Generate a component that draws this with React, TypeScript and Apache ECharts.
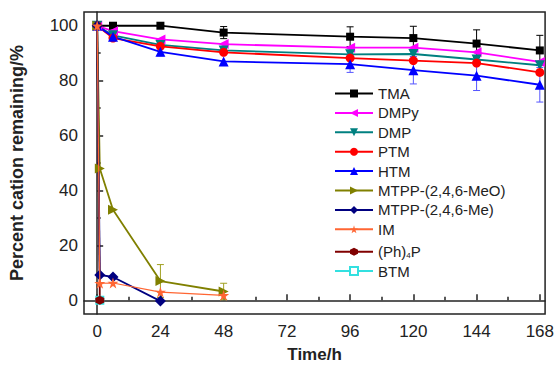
import React, { useEffect, useRef } from "react";
import * as echarts from "echarts";

const xMajor = [0, 24, 48, 72, 96, 120, 144, 168];
const xMinor = [12, 36, 60, 84, 108, 132, 156];
const yMajor = [0, 20, 40, 60, 80, 100];
const yMinor = [10, 30, 50, 70, 90];

const tma = [[0, 100], [6, 100], [24, 100], [48, 97.5], [96, 96], [120, 95.5], [144, 93.5], [168, 91]];
const dmpy = [[0, 100], [6, 98], [24, 95], [48, 93.3], [96, 92], [120, 92], [144, 90.3], [168, 86.8]];
const dmp = [[0, 100], [6, 96.5], [24, 93], [48, 91], [96, 89.6], [120, 89.7], [144, 87.7], [168, 85.6]];
const ptm = [[0, 100], [6, 95.5], [24, 92.5], [48, 90.3], [96, 88.2], [120, 87.3], [144, 86.4], [168, 83]];
const htm = [[0, 100], [6, 96], [24, 90.5], [48, 87], [96, 86], [120, 83.8], [144, 81.8], [168, 78.5]];
const meo = [[0, 100], [1, 48], [6, 33], [24, 7], [48, 3.2]];
const me = [[0, 100], [1, 9.2], [6, 8.5], [24, -0.3]];
const im = [[0, 100], [1, 6.2], [6, 6.3], [24, 3], [48, 1.8]];
const ph4p = [[0, 100], [1, 0]];
const btm = [[0, 100], [1, 0]];

// error bars: [x, y, +/-]
const tmaErr = [[48, 97.5, 2.2], [96, 96, 3.6], [120, 95.5, 4.3], [144, 93.5, 5], [168, 91, 5.5]];
const htmErr = [[24, 90.5, 1.5], [96, 86, 3], [120, 83.8, 5], [144, 81.8, 5.4], [168, 78.5, 6.3]];
const meoErr = [[24, 7, 6], [48, 3.2, 3]];

const FONT = "'Liberation Sans', Arial, sans-serif";

const STAR = "path://M50,0 L61,35 L98,35 L68,57 L79,91 L50,70 L21,91 L32,57 L2,35 L39,35 Z";
const HEX = "path://M50,0 L93,25 L93,75 L50,100 L7,75 L7,25 Z";

type Def = {
  name: string;
  data: number[][];
  color: string;
  symbol: string;
  size: number;
  rotate?: number;
  width?: number;
  z?: number;
};

const defs: Def[] = [
  { name: "TMA", data: tma, color: "#000000", symbol: "rect", size: 8 },
  { name: "DMPy", data: dmpy, color: "#ff00ff", symbol: "triangle", size: 10, rotate: 90 },
  { name: "DMP", data: dmp, color: "#008080", symbol: "triangle", size: 10, rotate: 180 },
  { name: "PTM", data: ptm, color: "#ff0000", symbol: "circle", size: 9 },
  { name: "HTM", data: htm, color: "#0000ff", symbol: "triangle", size: 10 },
  { name: "MTPP-(2,4,6-MeO)", data: meo, color: "#808000", symbol: "triangle", size: 10, rotate: -90 },
  { name: "MTPP-(2,4,6-Me)", data: me, color: "#000080", symbol: "diamond", size: 11 },
  { name: "BTM", data: btm, color: "#33e0e0", symbol: "emptyRect", size: 7, width: 1, z: 2 },
  { name: "(Ph)4P", data: ph4p, color: "#800000", symbol: HEX, size: 9, z: 2 },
  { name: "IM", data: im, color: "#ff6633", symbol: STAR, size: 11, width: 1.2, z: 4 },
];

const legendOrder = ["TMA", "DMPy", "DMP", "PTM", "HTM", "MTPP-(2,4,6-MeO)", "MTPP-(2,4,6-Me)", "IM", "(Ph)4P", "BTM"];

function errSeries(name: string, color: string, err: number[][]) {
  return {
    type: "custom",
    name: name + "-err",
    silent: true,
    z: 1,
    data: err.map((e) => [e[0], e[1] - e[2], e[1] + e[2]]),
    encode: { x: 0, y: [1, 2] },
    renderItem: (_p: any, api: any) => {
      const x = api.value(0);
      const lo = api.coord([x, api.value(1)]);
      const hi = api.coord([x, api.value(2)]);
      const st = { stroke: color, lineWidth: 1 };
      return {
        type: "group",
        children: [
          { type: "line", shape: { x1: lo[0], y1: lo[1], x2: hi[0], y2: hi[1] }, style: st },
          { type: "line", shape: { x1: lo[0] - 3.5, y1: lo[1], x2: lo[0] + 3.5, y2: lo[1] }, style: st },
          { type: "line", shape: { x1: hi[0] - 3.5, y1: hi[1], x2: hi[0] + 3.5, y2: hi[1] }, style: st },
        ],
      };
    },
  };
}

export default function App() {
  const ref = useRef<HTMLDivElement>(null);
  useEffect(() => {
    if (!ref.current) return;
    const chart = echarts.init(ref.current, undefined, { renderer: "svg" });
    const lineSeries = defs.map((d) => ({
      type: "line",
      name: d.name,
      data: d.data,
      symbol: d.symbol,
      symbolSize: d.size,
      symbolRotate: d.rotate || 0,
      z: d.z || 3,
      lineStyle: { color: d.color, width: d.width || 1.8 },
      itemStyle: d.symbol === "emptyRect" ? { color: d.color, borderWidth: 1.2 } : { color: d.color },
    }));
    const axisBase = {
      type: "value",
      axisLine: { show: true, lineStyle: { color: "#222", width: 1.5 } },
      splitLine: { show: false },
    };
    chart.setOption({
      animation: false,
      backgroundColor: "#ffffff",
      grid: { left: 84, right: 9, top: 12, bottom: 53, show: true, borderColor: "#222", borderWidth: 1.5 },
      xAxis: [
        {
          ...axisBase,
          min: -5,
          max: 170,
          name: "Time/h",
          nameLocation: "middle",
          nameGap: 32,
          nameTextStyle: { fontFamily: FONT, fontSize: 17, fontWeight: "bold", color: "#222" },
          axisTick: { inside: true, length: 6, customValues: xMajor, lineStyle: { color: "#222", width: 1.5 } },
          axisLabel: { customValues: xMajor, fontFamily: FONT, fontSize: 17, color: "#222", margin: 9 },
        },
        {
          ...axisBase,
          min: -5,
          max: 170,
          position: "bottom",
          axisLine: { show: false },
          axisTick: { inside: true, length: 3.5, customValues: xMinor, lineStyle: { color: "#222", width: 1.5 } },
          axisLabel: { show: false },
        },
      ],
      yAxis: [
        {
          ...axisBase,
          min: -5,
          max: 105,
          name: "Percent cation remaining/%",
          nameLocation: "middle",
          nameGap: 58,
          nameTextStyle: { fontFamily: FONT, fontSize: 18, fontWeight: "bold", color: "#222" },
          axisTick: { inside: true, length: 6, customValues: yMajor, lineStyle: { color: "#222", width: 1.5 } },
          axisLabel: { customValues: yMajor, fontFamily: FONT, fontSize: 17, color: "#222", margin: 6 },
        },
        {
          ...axisBase,
          min: -5,
          max: 105,
          position: "left",
          axisLine: { show: false },
          axisTick: { inside: true, length: 3.5, customValues: yMinor, lineStyle: { color: "#222", width: 1.5 } },
          axisLabel: { show: false },
        },
      ],
      legend: {
        data: legendOrder,
        orient: "vertical",
        left: 334,
        top: 86,
        itemWidth: 38,
        itemHeight: 10,
        itemGap: 4.4,
        padding: 0,
        formatter: (n: string) => (n === "(Ph)4P" ? "{t|(Ph)}{sub|4}{t|P}" : n),
        textStyle: {
          fontFamily: FONT,
          fontSize: 15,
          lineHeight: 15,
          color: "#222",
          rich: {
            t: { fontFamily: FONT, fontSize: 15, lineHeight: 15, color: "#222" },
            sub: { fontFamily: FONT, fontSize: 8, lineHeight: 8, color: "#222", verticalAlign: "bottom", padding: [10, 0, 0, 0] },
          },
        },
      },
      series: [
        errSeries("TMA", "#000000", tmaErr),
        errSeries("HTM", "#5555ff", htmErr),
        errSeries("MeO", "#a0a020", meoErr),
        ...lineSeries,
      ],
    });
    return () => chart.dispose();
  }, []);
  return <div ref={ref} style={{ width: 557, height: 368, position: "absolute", left: 0, top: 0 }} />;
}
